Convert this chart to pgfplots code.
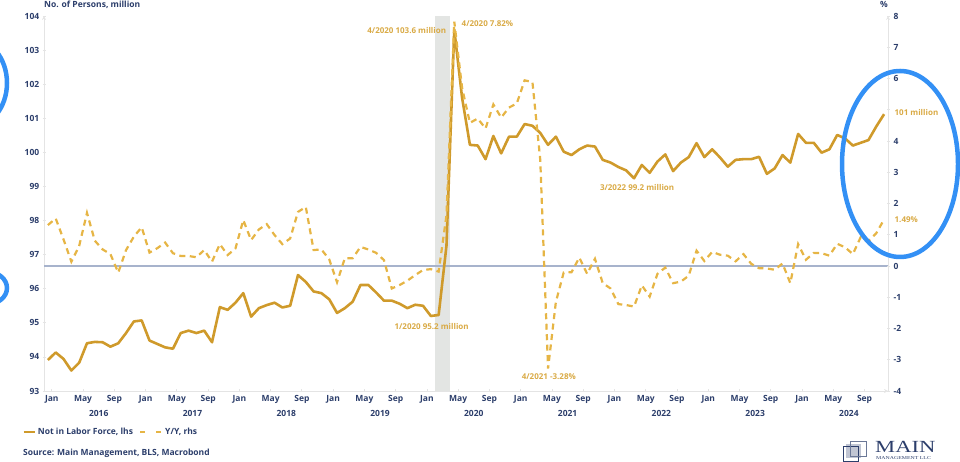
\documentclass[border=0pt]{standalone}
\usepackage{fontspec}
\setmainfont{Open Sans}
\newfontfamily\logofont{Liberation Serif}
\usepackage{pgfplots}
\pgfplotsset{compat=1.18}
\usepackage{pgfplotstable}

\definecolor{navy}{HTML}{2C3E6B}
\definecolor{solidgold}{HTML}{CF9A2B}
\definecolor{dashgold}{HTML}{E6B545}
\definecolor{annogold}{HTML}{D9AA45}
\definecolor{zeroline}{HTML}{A7B3CC}
\definecolor{shade}{HTML}{E3E5E3}
\definecolor{axisgray}{HTML}{E4E4E4}
\definecolor{circleblue}{HTML}{3390F5}

\newcommand\lbl{\fontsize{8.5pt}{10pt}\selectfont\bfseries}
\newcommand\anno{\fontsize{8pt}{9pt}\selectfont\bfseries}

\pgfplotstableread{
m lvl yoy
-1 93.91 1.31
0 94.13 1.52
1 93.94 0.85
2 93.60 0.14
3 93.83 0.64
4 94.40 1.70
5 94.44 0.81
6 94.43 0.53
7 94.30 0.38
8 94.40 -0.21
9 94.70 0.51
10 95.04 0.94
11 95.07 1.24
12 94.48 0.43
13 94.38 0.57
14 94.28 0.75
15 94.24 0.41
16 94.70 0.32
17 94.77 0.32
18 94.70 0.28
19 94.77 0.51
20 94.43 0.14
21 95.46 0.70
22 95.38 0.35
23 95.59 0.56
24 95.87 1.47
25 95.18 0.83
26 95.43 1.17
27 95.52 1.34
28 95.59 0.99
29 95.45 0.70
30 95.50 0.88
31 96.40 1.73
32 96.20 1.89
33 95.92 0.51
34 95.87 0.53
35 95.69 0.21
36 95.29 -0.52
37 95.43 0.25
38 95.62 0.25
39 96.11 0.61
40 96.11 0.53
41 95.89 0.42
42 95.65 0.19
43 95.65 -0.72
44 95.56 -0.61
45 95.43 -0.47
46 95.53 -0.29
47 95.50 -0.13
48 95.20 -0.10
49 95.23 -0.18
50 97.26 1.62
51 103.60 7.82
52 101.60 5.70
53 100.22 4.58
54 100.20 4.72
55 99.80 4.40
56 100.48 5.17
57 99.97 4.75
58 100.46 5.07
59 100.46 5.20
60 100.83 5.94
61 100.78 5.89
62 100.57 3.40
63 100.22 -3.28
64 100.46 -1.15
65 100.02 -0.21
66 99.92 -0.20
67 100.09 0.27
68 100.20 -0.25
69 100.17 0.23
70 99.78 -0.55
71 99.70 -0.72
72 99.57 -1.22
73 99.47 -1.25
74 99.24 -1.30
75 99.63 -0.62
76 99.40 -0.98
77 99.73 -0.25
78 99.94 -0.05
79 99.45 -0.55
80 99.70 -0.50
81 99.86 -0.31
82 100.27 0.49
83 99.86 0.16
84 100.09 0.45
85 99.85 0.36
86 99.58 0.33
87 99.78 0.15
88 99.80 0.38
89 99.80 0.07
90 99.87 -0.07
91 99.37 -0.08
92 99.53 -0.12
93 99.92 0.08
94 99.70 -0.55
95 100.54 0.70
96 100.28 0.20
97 100.28 0.42
98 99.99 0.41
99 100.09 0.33
100 100.51 0.71
101 100.41 0.60
102 100.20 0.38
103 100.28 0.92
104 100.36 0.80
105 100.76 1.05
106 101.12 1.49
}\datatable

\pgfplotsset{
  common/.style={
    at={(44pt,71pt)}, anchor=south west,
    scale only axis, width=844pt, height=375pt,
    xmin=-1.5, xmax=106.5,
    clip=false,
    axis line style={draw=axisgray, line width=0.8pt, -},
    tick style={draw=axisgray, line width=0.8pt},
    major tick length=3pt,
    tick align=outside,
    ticklabel style={font=\lbl, text=navy},
    /pgf/number format/assume math mode=true,
  }
}

\begin{document}
\begin{tikzpicture}
\useasboundingbox (0,0) rectangle (960pt,462pt);

\begin{axis}[common,
  ymin=93, ymax=104, ytick={93,94,...,104},
  axis x line=bottom, axis y line=left,
  yticklabel style={anchor=east, inner sep=0pt, xshift=-3pt},
  xtick={-0.5,3.5,...,103.5},
  xticklabels={Jan,May,Sep,Jan,May,Sep,Jan,May,Sep,Jan,May,Sep,Jan,May,Sep,Jan,May,Sep,Jan,May,Sep,Jan,May,Sep,Jan,May,Sep},
  xticklabel style={anchor=north, inner sep=0pt, yshift=-3pt},
  extra x ticks={5.5,17.5,29.5,41.5,53.5,65.5,77.5,89.5,101.5},
  extra x tick labels={2016,2017,2018,2019,2020,2021,2022,2023,2024},
  extra x tick style={major tick length=0pt, xticklabel style={yshift=-16pt}},
]
\addplot[draw=none, fill=shade] coordinates {(48.5,93) (50.5,93) (50.5,104) (48.5,104)} -- cycle;
\addplot[zeroline, line width=1.6pt] coordinates {(-1.5,96.6667) (106.5,96.6667)};
\addplot[solidgold, line width=2.6pt, line join=round] table[x=m, y=lvl] {\datatable};
\node[anchor=east, text=annogold, font=\anno] at (axis cs:50.4,103.56) {4/2020 103.6 million};
\node[anchor=center, text=annogold, font=\anno] at (axis cs:48.1,94.89) {1/2020 95.2 million};
\node[anchor=west, text=annogold, font=\anno] at (axis cs:69.2,98.97) {3/2022 99.2 million};
\node[anchor=west, text=annogold, font=\anno] at (axis cs:106.9,101.18) {101 million};
\end{axis}

\begin{axis}[common,
  ymin=-4, ymax=8, ytick={-4,-3,...,8},
  yticklabels={-4,-3,-2,-1,0,1,2,3,4,{},6,7,8},
  axis x line=none, axis y line=right,
  xtick=\empty,
  yticklabel style={anchor=west, inner sep=0pt, xshift=4pt},
  legend style={at={(axis description cs:-0.026,-0.109)}, anchor=west,
    draw=none, fill=none, font=\lbl, text=navy, inner sep=0pt,
    legend columns=2,
    /tikz/every even column/.append style={column sep=4pt}},
  legend cell align=left,
]
\addlegendimage{solidgold, line width=2.6pt, legend image code/.code={\draw[solidgold, line width=2.6pt] (0pt,0pt) -- (11pt,0pt);}}
\addlegendentry{Not in Labor Force, lhs}
\addplot[dashgold, line width=2.2pt, dash pattern=on 6pt off 4.5pt,
  legend image code/.code={\draw[dashgold, line width=2.2pt, dash pattern=on 5pt off 11pt] (0pt,0pt) -- (22pt,0pt);}]
  table[x=m, y=yoy] {\datatable};
\addlegendentry{Y/Y, rhs}
\node[anchor=west, text=annogold, font=\anno] at (axis cs:51.5,7.76) {4/2020 7.82\%};
\node[anchor=center, text=annogold, font=\anno] at (axis cs:63.1,-3.53) {4/2021 -3.28\%};
\node[anchor=west, text=annogold, font=\anno] at (axis cs:106.9,1.49) {1.49\%};
\end{axis}

% titles and footer
\node[anchor=base west, text=navy, font=\lbl, inner sep=0pt] at (44pt,454pt) {No. of Persons, million};
\node[anchor=base, text=navy, font=\lbl, inner sep=0pt] at (884pt,454pt) {\%};
\node[anchor=base west, text=navy, font=\lbl, inner sep=0pt] at (23pt,6pt) {Source: Main Management, BLS, Macrobond};

% logo
\fill[navy!30] (846pt,4pt) rectangle (861pt,18pt);
\draw[navy, line width=0.9pt] (843pt,1pt) rectangle (858pt,16pt);
\draw[navy!70, line width=0.9pt] (850pt,6pt) rectangle (866pt,21pt);
\node[anchor=base west, text=navy, inner sep=0pt, font=\logofont\fontsize{17pt}{17pt}\selectfont] at (875pt,9pt) {\scalebox{1.33}[1]{MAIN}};
\node[anchor=base west, text=navy, inner sep=0pt, font=\logofont\fontsize{4.5pt}{5pt}\selectfont] at (876pt,2pt) {\scalebox{1.3}[1]{MANAGEMENT LLC}};

% blue hand-drawn circles
\draw[circleblue, line width=4.5pt] (900pt,298pt) ellipse [x radius=58pt, y radius=93pt];
\draw[circleblue, line width=4.5pt] (-30pt,379pt) ellipse [x radius=37pt, y radius=45pt];
\draw[circleblue, line width=4.5pt] (-12pt,174pt) ellipse [x radius=19pt, y radius=16pt];
\end{tikzpicture}
\end{document}
